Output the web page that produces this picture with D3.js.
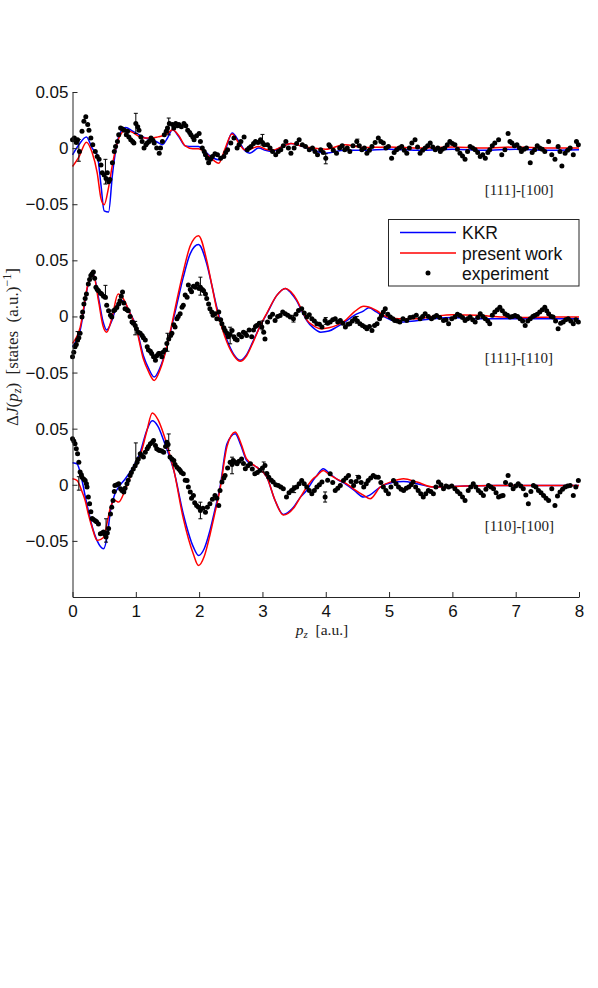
<!DOCTYPE html>
<html lang="en">
<head>
<meta charset="utf-8">
<title>Directional Compton profile differences</title>
<script src="https://d3js.org/d3.v7.min.js"></script>
<style>
  body { margin: 0; background: #fff; }
  .sans { font-family: "Liberation Sans", Arial, Helvetica, sans-serif; }
  .serif { font-family: "Liberation Serif", "Times New Roman", serif; }
</style>
</head>
<body>
<script>
// ---- data ----
var xTicks = [0, 1, 2, 3, 4, 5, 6, 7, 8];
// one shared y axis, each panel shifted by an offset
var panelOffsets = [0.3, 0.15, 0];
var panelLabels = ["[111]-[100]", "[111]-[110]", "[110]-[100]"];
var yTickValues = [-0.05, 0, 0.05, 0.1, 0.15, 0.2, 0.25, 0.3, 0.35];
var yTickLabels = ["\u22120.05", "0", "0.05", "\u22120.05", "0", "0.05", "\u22120.05", "0", "0.05"];
var seriesNames = ["KKR", "present work", "experiment"];

// [111]-[100]
var gridTop = [0,0.1,0.22,0.31,0.39,0.45,0.5,0.57,0.63,0.68,0.74,0.84,0.95,1.05,1.15,1.26,1.35,1.42,1.5,1.58,1.68,1.78,1.9,1.99,2.08,2.15,2.23,2.31,2.4,2.52,2.63,2.72,2.8,2.94,3.05,3.15,3.3,3.45,3.6,3.8,4.0,4.3,4.6,5.0,5.5,6.0,6.5,7.0,7.5,8.0];
var kkrTop = [-0.006,0.003,0.010,0.000,-0.006,-0.033,-0.056,-0.057,-0.024,-0.003,0.012,0.0184,0.015,0.012,0.009,0.0074,0.005,0.003,0.009,0.0163,0.010,0.002,0.0015,0.0015,-0.002,-0.006,-0.009,-0.0104,-0.004,0.0134,0.006,-0.002,-0.0045,0,-0.002,-0.003,0.001,0.004,0.002,-0.002,-0.0045,-0.002,-0.002,-0.001,-0.002,-0.001,-0.002,-0.001,-0.002,-0.0015];
var presentTop = [-0.0164,-0.008,0.0053,-0.004,-0.022,-0.045,-0.0505,-0.035,-0.015,-0.001,0.010,0.016,0.014,0.0104,0.009,0.009,0.010,0.011,0.013,0.0163,0.011,0.002,-0.0005,-0.0005,-0.003,-0.007,-0.011,-0.0134,-0.002,0.0125,0.004,-0.0015,-0.001,0.0015,-0.001,-0.002,0.001,0.004,0.002,0,-0.001,0.003,0.0005,0.001,0.000,0.001,0.000,0.001,0.000,0.000];
var expTop = [[0.0,0.0074],[0.03,0.009],[0.06,0.005],[0.08,0.0074],[0.11,-0.003],[0.15,0.015],[0.18,0.024],[0.21,0.028],[0.24,0.021],[0.26,0.016],[0.29,0.009],[0.32,0.003],[0.36,-0.003],[0.39,-0.0074],[0.42,-0.01],[0.45,-0.015],[0.47,-0.022],[0.5,-0.024],[0.53,-0.027],[0.55,-0.022],[0.57,-0.03],[0.59,-0.028],[0.63,-0.013],[0.66,-0.003],[0.68,0.0015],[0.71,0.006],[0.73,0.012],[0.76,0.018],[0.79,0.017],[0.82,0.016],[0.85,0.012],[0.87,0.015],[0.89,0.01],[0.92,0.0074],[0.95,0.006],[0.97,0.0045],[1.0,0.022],[1.03,0.019],[1.05,0.016],[1.08,0.01],[1.1,0.006],[1.13,0],[1.16,0.003],[1.18,0.0045],[1.21,0.006],[1.24,0.009],[1.27,0.007],[1.29,0.0045],[1.33,0.0],[1.37,-0.0045],[1.39,0],[1.42,0.006],[1.45,0.012],[1.48,0.015],[1.5,0.018],[1.53,0.022],[1.58,0.021],[1.6,0.018],[1.63,0.022],[1.66,0.02],[1.68,0.021],[1.72,0.019],[1.76,0.022],[1.79,0.02],[1.82,0.016],[1.85,0.014],[1.87,0.012],[1.9,0.01],[1.92,0.0074],[1.96,0.011],[2.0,0.013],[2.02,0.006],[2.05,0],[2.08,-0.003],[2.1,-0.006],[2.13,-0.009],[2.15,-0.013],[2.18,-0.01],[2.21,-0.0074],[2.25,-0.005],[2.29,-0.006],[2.34,-0.009],[2.39,-0.0074],[2.42,-0.004],[2.45,-0.0015],[2.5,0.0045],[2.55,0.009],[2.6,0],[2.63,0.003],[2.66,0.006],[2.71,0.01],[2.76,-0.0015],[2.79,0.0],[2.82,0.0015],[2.86,0.004],[2.89,0.006],[2.93,0.005],[2.97,0.0074],[3.0,0.005],[3.03,0.003],[3.08,0.003],[3.12,0.0],[3.16,-0.003],[3.21,-0.006],[3.25,-0.003],[3.29,-0.0015],[3.33,0.002],[3.37,0.006],[3.41,0.0],[3.45,-0.0045],[3.5,0],[3.54,0.004],[3.58,0.0074],[3.63,0.003],[3.68,0.0015],[3.74,-0.0015],[3.79,0],[3.83,-0.003],[3.87,-0.006],[3.92,-0.0015],[3.96,-0.004],[4.0,-0.009],[4.05,0.003],[4.07,0.0015],[4.12,-0.002],[4.17,-0.0045],[4.22,0.0],[4.26,0.002],[4.3,-0.0015],[4.34,0.0],[4.38,-0.003],[4.43,0.002],[4.49,0.006],[4.53,0.002],[4.57,-0.0015],[4.61,0.0],[4.65,-0.0045],[4.69,-0.002],[4.73,0.0015],[4.78,0.005],[4.83,0.009],[4.87,0.006],[4.91,0.0045],[4.95,0.0],[4.99,0.0015],[5.04,-0.009],[5.08,-0.004],[5.12,-0.0015],[5.16,0.0],[5.2,0.0015],[5.24,-0.002],[5.28,-0.0045],[5.32,0.0],[5.36,0.0045],[5.41,0.0074],[5.45,0.001],[5.49,-0.0045],[5.53,-0.002],[5.57,0],[5.61,0.002],[5.65,0.0045],[5.69,0.001],[5.73,-0.0015],[5.77,0.0],[5.81,-0.003],[5.84,-0.001],[5.88,0],[5.92,0.003],[5.96,0.006],[6.0,0.004],[6.04,0.003],[6.08,-0.001],[6.12,-0.0045],[6.16,-0.007],[6.2,-0.01],[6.24,-0.003],[6.28,0.0015],[6.32,0.0],[6.36,-0.0015],[6.4,-0.004],[6.44,-0.0074],[6.48,-0.006],[6.52,-0.009],[6.56,-0.004],[6.59,-0.0015],[6.63,0.002],[6.67,0.0045],[6.73,0.0074],[6.78,-0.006],[6.83,-0.0015],[6.88,0.013],[6.91,0.006],[6.94,0.0045],[6.98,0.002],[7.02,0.003],[7.06,0.0],[7.09,-0.003],[7.13,-0.001],[7.17,0],[7.23,-0.013],[7.26,-0.004],[7.3,-0.0015],[7.34,0.002],[7.38,0],[7.42,-0.001],[7.46,-0.003],[7.52,0.006],[7.57,-0.006],[7.62,-0.01],[7.67,0.0015],[7.7,-0.003],[7.73,-0.016],[7.78,-0.0045],[7.82,-0.002],[7.86,0],[7.91,-0.006],[7.96,0.006],[7.99,0.003]];
var errTop = [[0.1,-0.002,0.0097],[0.52,-0.021,0.011],[1.0,0.022,0.009],[1.52,0.0193,0.0075],[3.0,0.0074,0.0048],[4.0,-0.0095,0.0045],[4.5,0.005,0.003]];

// [111]-[110]
var gridMid = [0,0.12,0.25,0.33,0.41,0.48,0.54,0.62,0.72,0.8,0.9,1.0,1.12,1.2,1.29,1.38,1.49,1.58,1.65,1.75,1.86,1.99,2.12,2.2,2.28,2.36,2.44,2.55,2.65,2.75,2.86,2.96,3.07,3.23,3.36,3.45,3.54,3.62,3.7,3.8,3.92,4.05,4.17,4.3,4.45,4.6,4.68,4.8,4.95,5.15,5.4,5.7,6.0,6.4,6.8,7.2,7.6,8.0];
var kkrMid = [-0.027,-0.0125,0.029,0.0374,0.017,-0.004,-0.012,-0.004,0.012,0.014,0.004,-0.008,-0.035,-0.046,-0.054,-0.046,-0.027,-0.006,0.011,0.035,0.056,0.064,0.047,0.028,0.008,-0.008,-0.021,-0.034,-0.039,-0.034,-0.021,-0.009,0.0024,0.019,0.025,0.021,0.014,0.005,-0.0036,-0.010,-0.014,-0.013,-0.0095,-0.005,0.001,0.005,0.0077,0.004,-0.001,-0.005,-0.004,-0.002,-0.001,-0.002,-0.002,-0.002,-0.002,-0.002];
var presentMid = [-0.024,-0.010,0.030,0.037,0.014,-0.008,-0.014,-0.002,0.020,0.016,0.004,-0.009,-0.038,-0.049,-0.057,-0.048,-0.027,-0.004,0.015,0.040,0.063,0.072,0.050,0.028,0.006,-0.010,-0.023,-0.035,-0.040,-0.035,-0.022,-0.009,0.003,0.019,0.025,0.022,0.015,0.006,-0.003,-0.008,-0.011,-0.010,-0.008,-0.004,0.004,0.009,0.0085,0.0053,0.000,-0.002,-0.002,0.000,0.0015,0.001,-0.0006,-0.001,-0.0006,-0.0006];
var expMid = [[0,-0.036],[0.02,-0.032],[0.04,-0.027],[0.06,-0.025],[0.08,-0.021],[0.1,-0.019],[0.12,-0.015],[0.15,-0.0006],[0.16,0.004],[0.18,0.011],[0.2,0.016],[0.22,0.02],[0.25,0.029],[0.27,0.033],[0.29,0.0365],[0.31,0.038],[0.33,0.0395],[0.35,0.034],[0.37,0.026],[0.39,0.024],[0.41,0.023],[0.44,0.021],[0.46,0.02],[0.49,0.018],[0.52,0.017],[0.54,0.01],[0.57,0.005],[0.6,0.001],[0.62,-0.0006],[0.65,0.005],[0.67,0.006],[0.7,0.008],[0.73,0.011],[0.75,0.014],[0.77,0.018],[0.79,0.0217],[0.81,0.012],[0.83,0.0068],[0.86,0.006],[0.88,0.005],[0.91,0.0],[0.94,-0.005],[0.96,-0.006],[0.99,-0.008],[1.01,-0.011],[1.04,-0.014],[1.07,-0.015],[1.1,-0.017],[1.12,-0.019],[1.15,-0.021],[1.18,-0.027],[1.2,-0.03],[1.23,-0.031],[1.25,-0.033],[1.28,-0.036],[1.31,-0.039],[1.33,-0.035],[1.36,-0.033],[1.38,-0.033],[1.41,-0.036],[1.43,-0.032],[1.46,-0.03],[1.49,-0.024],[1.52,-0.02],[1.55,-0.017],[1.57,-0.015],[1.6,-0.0075],[1.62,-0.0095],[1.65,-0.002],[1.67,0.0],[1.7,0.0024],[1.73,0.0083],[1.75,0.01],[1.78,0.019],[1.81,0.017],[1.83,0.028],[1.86,0.024],[1.88,0.022],[1.91,0.027],[1.94,0.026],[1.97,0.029],[2.0,0.025],[2.02,0.026],[2.05,0.024],[2.07,0.023],[2.1,0.02],[2.12,0.016],[2.15,0.011],[2.17,0.0068],[2.2,0.004],[2.22,0.001],[2.25,0.0024],[2.28,-0.002],[2.31,0.0039],[2.34,-0.003],[2.36,-0.0065],[2.39,-0.01],[2.41,-0.0125],[2.44,-0.015],[2.46,-0.018],[2.49,-0.016],[2.52,-0.0125],[2.55,-0.018],[2.57,-0.02],[2.6,-0.021],[2.63,-0.016],[2.67,-0.018],[2.7,-0.014],[2.73,-0.015],[2.75,-0.017],[2.79,-0.012],[2.83,-0.018],[2.86,-0.012],[2.89,-0.009],[2.91,-0.008],[2.95,-0.006],[2.99,-0.0095],[3.02,-0.014],[3.04,-0.02],[3.08,-0.005],[3.12,-0.0006],[3.16,0.002],[3.2,-0.0036],[3.24,0.0],[3.28,0.0009],[3.32,0.004],[3.36,0.0024],[3.4,0.001],[3.44,-0.0006],[3.49,-0.002],[3.53,0.002],[3.57,0.0053],[3.62,0.0068],[3.66,0.003],[3.7,-0.0006],[3.74,0.0015],[3.78,-0.002],[3.82,-0.004],[3.86,-0.0065],[3.9,-0.007],[3.94,-0.0095],[3.99,-0.0036],[4.03,-0.006],[4.07,-0.005],[4.11,-0.003],[4.15,-0.002],[4.19,-0.005],[4.23,-0.0036],[4.27,-0.006],[4.31,-0.0095],[4.35,-0.007],[4.38,-0.0065],[4.42,-0.004],[4.46,-0.002],[4.5,-0.004],[4.54,-0.0065],[4.58,-0.008],[4.62,-0.0095],[4.65,-0.011],[4.69,-0.009],[4.73,-0.0125],[4.77,-0.008],[4.81,-0.0065],[4.85,-0.002],[4.88,0.0009],[4.91,0.004],[4.94,0.0068],[4.98,0.002],[5.02,-0.0006],[5.06,-0.002],[5.09,-0.0036],[5.13,-0.004],[5.17,-0.005],[5.22,-0.002],[5.28,-0.0036],[5.33,-0.001],[5.38,-0.0006],[5.43,0.001],[5.49,-0.002],[5.53,0.0],[5.57,0.0024],[5.62,0.0],[5.67,-0.002],[5.71,-0.0005],[5.75,0.0009],[5.8,-0.001],[5.86,-0.0036],[5.9,-0.003],[5.94,-0.0065],[5.99,-0.002],[6.04,-0.0006],[6.08,0.002],[6.12,0.0009],[6.16,-0.001],[6.2,-0.0036],[6.24,-0.002],[6.28,-0.0006],[6.32,-0.003],[6.36,-0.005],[6.4,-0.001],[6.44,0.0024],[6.48,0.0],[6.52,-0.002],[6.56,-0.004],[6.59,-0.0065],[6.63,0.001],[6.67,0.0039],[6.71,0.006],[6.75,0.0083],[6.79,0.005],[6.83,0.0024],[6.87,0.001],[6.91,-0.0006],[6.95,0.0],[6.99,0.0009],[7.03,0.0],[7.07,-0.002],[7.11,-0.004],[7.15,-0.008],[7.19,-0.004],[7.23,-0.002],[7.27,0.0],[7.3,0.0009],[7.34,0.002],[7.38,0.0039],[7.42,0.006],[7.46,0.0083],[7.49,0.005],[7.52,0.0024],[7.56,0.0],[7.59,-0.0006],[7.63,-0.004],[7.67,-0.011],[7.71,-0.006],[7.75,-0.005],[7.79,-0.003],[7.83,-0.002],[7.87,-0.004],[7.91,-0.0065],[7.95,-0.003],[7.99,-0.005]];
var errMid = [[0.08,-0.018,0.0045],[0.52,0.0217,0.006],[0.99,-0.0104,0.006],[1.5,-0.023,0.008],[2.02,0.027,0.008],[2.49,-0.017,0.0074],[3.0,-0.008,0.004],[3.49,-0.002,0.003],[4.0,-0.004,0.003],[4.49,-0.003,0.003]];

// [110]-[100]
var gridBot = [0,0.07,0.15,0.2,0.25,0.31,0.39,0.49,0.55,0.6,0.67,0.73,0.83,0.96,1.07,1.17,1.26,1.35,1.44,1.52,1.6,1.75,1.91,1.99,2.08,2.17,2.25,2.33,2.44,2.57,2.66,2.75,2.91,3.07,3.2,3.33,3.49,3.6,3.7,3.8,3.86,3.96,4.06,4.17,4.33,4.45,4.6,4.7,4.86,5.05,5.23,5.44,5.7,6.2,6.7,7.2,7.6,8.0];
var kkrBot = [0.0196,0.0187,0.004,-0.010,-0.023,-0.037,-0.050,-0.057,-0.045,-0.023,-0.008,-0.002,0.005,0.016,0.029,0.048,0.057,0.052,0.0395,0.027,0.0128,-0.026,-0.0556,-0.063,-0.057,-0.041,-0.022,-0.002,0.0365,0.0455,0.035,0.0217,0.0157,0.0068,-0.014,-0.0264,-0.020,-0.011,-0.005,0.004,0.0083,0.0143,0.010,0.0053,0.000,-0.005,-0.011,-0.009,-0.002,0.002,0.003,0.0009,-0.002,-0.001,-0.0006,-0.0006,-0.0006,-0.0006];
var presentBot = [0.0053,0.0039,-0.006,-0.014,-0.026,-0.038,-0.0496,-0.047,-0.033,-0.020,-0.014,-0.0154,-0.005,0.014,0.026,0.047,0.064,0.058,0.045,0.030,0.013,-0.030,-0.062,-0.072,-0.064,-0.045,-0.025,-0.004,0.034,0.047,0.037,0.023,0.0157,0.0068,-0.014,-0.027,-0.021,-0.011,-0.002,0.0053,0.008,0.0128,0.009,0.0053,0.0009,-0.004,-0.0095,-0.0125,-0.002,0.003,0.0053,0.0024,-0.002,-0.0012,-0.0006,-0.0006,-0.0006,-0.0006];
var expBot = [[0,0.041],[0.02,0.039],[0.04,0.0365],[0.06,0.032],[0.08,0.0276],[0.1,0.02],[0.12,0.0113],[0.14,0.009],[0.15,0.0068],[0.18,0.005],[0.2,0.0039],[0.22,0.001],[0.23,-0.002],[0.25,-0.011],[0.27,-0.017],[0.29,-0.024],[0.31,-0.03],[0.33,-0.031],[0.36,-0.032],[0.38,-0.033],[0.41,-0.035],[0.44,-0.0437],[0.47,-0.043],[0.49,-0.042],[0.51,-0.044],[0.53,-0.0466],[0.55,-0.043],[0.57,-0.039],[0.6,-0.026],[0.62,-0.02],[0.64,-0.014],[0.66,-0.006],[0.67,-0.0006],[0.7,0.0],[0.73,0.0009],[0.76,-0.0036],[0.78,-0.005],[0.81,-0.0065],[0.83,-0.003],[0.86,0.0009],[0.88,0.004],[0.91,0.0083],[0.93,0.011],[0.96,0.014],[0.99,0.017],[1.02,0.02],[1.04,0.023],[1.07,0.0276],[1.09,0.026],[1.12,0.0247],[1.15,0.029],[1.18,0.032],[1.2,0.034],[1.23,0.0365],[1.26,0.038],[1.28,0.0395],[1.31,0.035],[1.33,0.032],[1.36,0.031],[1.38,0.0306],[1.41,0.03],[1.44,0.029],[1.47,0.034],[1.49,0.038],[1.51,0.036],[1.54,0.0247],[1.57,0.023],[1.6,0.0217],[1.62,0.018],[1.65,0.0157],[1.68,0.014],[1.7,0.0128],[1.72,0.011],[1.75,0.0098],[1.78,0.004],[1.81,0.0039],[1.83,-0.002],[1.86,-0.0065],[1.88,-0.012],[1.91,-0.0095],[1.93,-0.016],[1.96,-0.0184],[1.99,-0.02],[2.02,-0.0229],[2.06,-0.021],[2.1,-0.0244],[2.13,-0.02],[2.17,-0.017],[2.21,-0.013],[2.25,-0.0095],[2.28,-0.012],[2.31,-0.0184],[2.33,-0.005],[2.36,0.0024],[2.39,0.006],[2.41,0.0083],[2.45,0.015],[2.49,0.02],[2.52,0.018],[2.54,0.0217],[2.57,0.02],[2.6,0.0187],[2.63,0.021],[2.67,0.023],[2.7,0.019],[2.73,0.0143],[2.77,0.017],[2.81,0.0187],[2.84,0.014],[2.88,0.0098],[2.92,0.011],[2.96,0.0128],[3.0,0.015],[3.04,0.0172],[3.07,0.01],[3.1,0.0068],[3.14,0.004],[3.17,0.0024],[3.21,0.0],[3.25,-0.0006],[3.29,-0.002],[3.33,-0.0036],[3.38,-0.011],[3.42,-0.007],[3.46,-0.005],[3.5,-0.003],[3.54,-0.002],[3.58,0.001],[3.62,0.0039],[3.66,0.001],[3.7,-0.002],[3.74,-0.005],[3.78,-0.008],[3.82,-0.005],[3.86,-0.002],[3.9,0.0],[3.94,0.0024],[3.99,-0.011],[4.03,0.004],[4.07,0.0098],[4.11,0.002],[4.15,-0.005],[4.19,-0.003],[4.23,-0.0006],[4.28,0.0039],[4.32,0.006],[4.36,0.0083],[4.4,0.003],[4.44,-0.0006],[4.48,0.003],[4.52,0.0068],[4.56,0.002],[4.6,-0.002],[4.64,0.001],[4.67,0.0039],[4.71,0.006],[4.75,0.0083],[4.79,0.007],[4.83,0.0068],[4.87,0.002],[4.91,-0.002],[4.95,-0.005],[4.99,-0.008],[5.03,-0.002],[5.07,0.0039],[5.11,0.001],[5.15,-0.002],[5.19,-0.004],[5.23,-0.005],[5.27,-0.003],[5.31,-0.002],[5.35,0.0],[5.38,0.0024],[5.42,-0.002],[5.46,-0.005],[5.5,-0.008],[5.54,-0.011],[5.58,-0.008],[5.62,-0.005],[5.66,-0.006],[5.7,-0.008],[5.74,-0.002],[5.78,0.0024],[5.82,0.0],[5.86,-0.0036],[5.9,-0.001],[5.94,-0.002],[5.99,-0.001],[6.04,-0.0036],[6.08,-0.006],[6.12,-0.008],[6.16,-0.011],[6.2,-0.014],[6.25,-0.005],[6.29,-0.002],[6.33,0.0009],[6.37,-0.002],[6.41,-0.005],[6.45,-0.007],[6.49,-0.0095],[6.53,-0.004],[6.57,-0.0006],[6.61,-0.002],[6.65,-0.0036],[6.69,-0.007],[6.73,-0.011],[6.77,-0.01],[6.8,-0.0095],[6.84,0.002],[6.88,0.0083],[6.92,0.0],[6.96,-0.0036],[7.0,-0.001],[7.04,0.0009],[7.08,-0.001],[7.12,-0.0036],[7.16,-0.009],[7.2,-0.017],[7.24,-0.006],[7.28,-0.0006],[7.32,-0.002],[7.36,-0.005],[7.4,-0.007],[7.44,-0.0095],[7.48,-0.012],[7.52,-0.014],[7.57,-0.0036],[7.62,-0.0184],[7.66,-0.01],[7.7,-0.0065],[7.74,-0.004],[7.78,-0.002],[7.82,-0.001],[7.86,-0.0006],[7.91,-0.0095],[7.95,-0.002],[7.99,0.0039]];
var errBot = [[0.1,0.0012,0.006],[0.53,-0.0407,0.0104],[1.0,0.0276,0.0097],[1.52,0.0379,0.0074],[2.02,-0.0229,0.0074],[2.52,0.0172,0.0074],[3.02,0.0158,0.0045],[3.5,-0.004,0.003],[3.99,-0.0109,0.0045],[4.5,0.0053,0.003]];

// ---- layout ----
var w = 598, h = 988;
var plot = {left: 72.5, right: 579, top: 92, bottom: 597};
var axisColor = "#262626";

var svg = d3.select("body").append("svg")
    .attr("width", w)
    .attr("height", h);

var xScale = d3.scaleLinear().domain([0, 8]).range([plot.left, plot.right]);
var yScale = d3.scaleLinear().domain([-0.1, 0.35]).range([plot.bottom, plot.top]);

var panels = [
  {grid: gridTop, kkr: kkrTop, present: presentTop, exp: expTop, err: errTop},
  {grid: gridMid, kkr: kkrMid, present: presentMid, exp: expMid, err: errMid},
  {grid: gridBot, kkr: kkrBot, present: presentBot, exp: expBot, err: errBot}
];

panels.forEach(function(pan, i) {
  var off = panelOffsets[i];
  var g = svg.append("g").attr("class", "panel");

  var line = d3.line()
      .x(function(d) { return xScale(d[0]); })
      .y(function(d) { return yScale(d[1] + off); })
      .curve(d3.curveMonotoneX);

  var kkrPts = pan.grid.map(function(p, k) { return [p, pan.kkr[k]]; });
  var presPts = pan.grid.map(function(p, k) { return [p, pan.present[k]]; });

  g.append("path").datum(kkrPts)
      .attr("d", line).attr("fill", "none")
      .attr("stroke", "#0000ff").attr("stroke-width", 1.5);
  g.append("path").datum(presPts)
      .attr("d", line).attr("fill", "none")
      .attr("stroke", "#ff0000").attr("stroke-width", 1.5);

  // error bars
  var eb = g.selectAll(".err").data(pan.err).enter().append("g").attr("class", "err")
      .attr("stroke", "#000").attr("stroke-width", 1);
  eb.append("line")
      .attr("x1", function(d) { return xScale(d[0]); })
      .attr("x2", function(d) { return xScale(d[0]); })
      .attr("y1", function(d) { return yScale(d[1] + d[2] + off); })
      .attr("y2", function(d) { return yScale(d[1] - d[2] + off); });
  [1, -1].forEach(function(s) {
    eb.append("line")
        .attr("x1", function(d) { return xScale(d[0]) - 2; })
        .attr("x2", function(d) { return xScale(d[0]) + 2; })
        .attr("y1", function(d) { return yScale(d[1] + s * d[2] + off); })
        .attr("y2", function(d) { return yScale(d[1] + s * d[2] + off); });
  });

  g.selectAll("circle").data(pan.exp).enter().append("circle")
      .attr("cx", function(d) { return xScale(d[0]); })
      .attr("cy", function(d) { return yScale(d[1] + off); })
      .attr("r", 2.5)
      .attr("fill", "#000");

  svg.append("text")
      .attr("class", "serif")
      .attr("x", xScale(6.51))
      .attr("y", yScale(off - 0.0415))
      .attr("font-size", 15)
      .attr("fill", "#222")
      .text(panelLabels[i]);
});

// ---- axes ----
var xAxis = d3.axisBottom(xScale)
    .tickValues(xTicks)
    .tickSizeInner(-5)
    .tickSizeOuter(0)
    .tickPadding(8)
    .tickFormat(d3.format("d"));

var yAxis = d3.axisLeft(yScale)
    .tickValues(yTickValues)
    .tickSizeInner(-5)
    .tickSizeOuter(0)
    .tickPadding(4)
    .tickFormat(function(d, i) { return yTickLabels[i]; });

var gx = svg.append("g")
    .attr("transform", "translate(0," + plot.bottom + ")")
    .call(xAxis);
var gy = svg.append("g")
    .attr("transform", "translate(" + plot.left + ",0)")
    .call(yAxis);

[gx, gy].forEach(function(a) {
  a.attr("font-family", null).attr("font-size", null);
  a.selectAll("text").attr("class", "sans").attr("font-size", 17).attr("fill", "#111");
  a.selectAll("path, line").attr("stroke", axisColor);
});

// x label: p_z [a.u.]
var xl = svg.append("text")
    .attr("class", "serif")
    .attr("x", 322)
    .attr("y", 635)
    .attr("text-anchor", "middle")
    .attr("font-size", 15.5)
    .attr("fill", "#222");
xl.append("tspan").attr("font-style", "italic").text("p");
xl.append("tspan").attr("font-style", "italic").attr("font-size", 11).attr("dy", 3).text("z");
xl.append("tspan").attr("dy", -3).text("\u2002[a.u.]");

// y label: ΔJ(p_z) [states (a.u.)^-1]
var yl = svg.append("text")
    .attr("class", "serif")
    .attr("transform", "translate(18,347) rotate(-90)")
    .attr("text-anchor", "middle")
    .attr("font-size", 17)
    .attr("fill", "#222");
yl.append("tspan").text("\u0394");
yl.append("tspan").attr("font-style", "italic").text("J");
yl.append("tspan").text("(");
yl.append("tspan").attr("font-style", "italic").text("p");
yl.append("tspan").attr("font-style", "italic").attr("font-size", 12).attr("dy", 3).text("z");
yl.append("tspan").attr("dy", -3).text(")\u2002[states\u2002(a.u.)");
yl.append("tspan").attr("font-size", 12).attr("dy", -7).text("\u22121");
yl.append("tspan").attr("dy", 7).text("]");

// ---- legend ----
var leg = svg.append("g").attr("class", "legend");
leg.append("rect")
    .attr("x", 388.5).attr("y", 219.5)
    .attr("width", 190.5).attr("height", 66.5)
    .attr("fill", "#fff")
    .attr("stroke", axisColor).attr("stroke-width", 1);

var legRows = [232.5, 253, 273];
var legColors = ["#0000ff", "#ff0000", null];
seriesNames.forEach(function(name, i) {
  if (legColors[i]) {
    leg.append("line")
        .attr("x1", 400).attr("x2", 456)
        .attr("y1", legRows[i]).attr("y2", legRows[i])
        .attr("stroke", legColors[i]).attr("stroke-width", 1.5);
  } else {
    leg.append("circle")
        .attr("cx", 428).attr("cy", legRows[i])
        .attr("r", 2.5).attr("fill", "#000");
  }
  leg.append("text")
      .attr("class", "sans")
      .attr("x", 462)
      .attr("y", legRows[i] + 6.5)
      .attr("font-size", 17.5)
      .attr("fill", "#111")
      .text(name);
});
</script>
</body>
</html>
